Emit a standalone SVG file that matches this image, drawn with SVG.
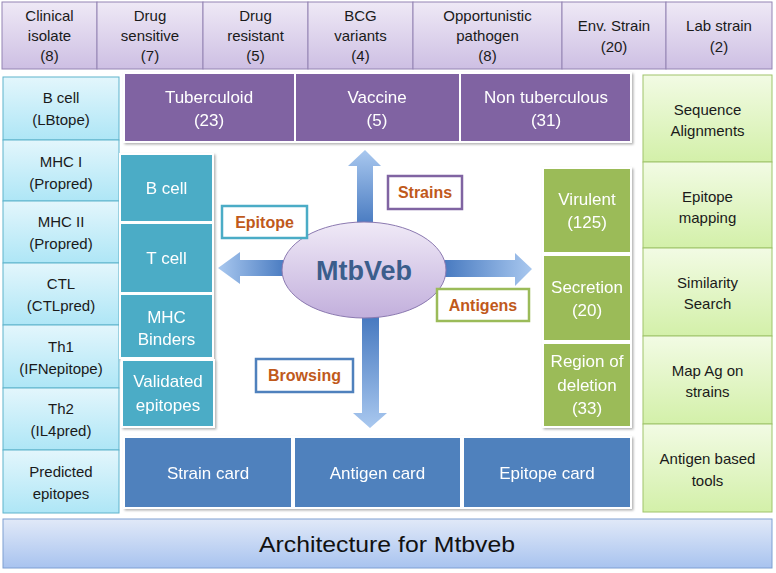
<svg xmlns="http://www.w3.org/2000/svg" width="776" height="573" viewBox="0 0 776 573">
<defs>
<linearGradient id="gTop" x1="0" y1="0" x2="0" y2="1"><stop offset="0" stop-color="#efe9f6"/><stop offset="1" stop-color="#cdbfe3"/></linearGradient>
<linearGradient id="gCyan" x1="0" y1="0" x2="0" y2="1"><stop offset="0" stop-color="#e3f6fc"/><stop offset="1" stop-color="#aee6f6"/></linearGradient>
<linearGradient id="gLime" x1="0" y1="0" x2="0" y2="1"><stop offset="0" stop-color="#f2fbe4"/><stop offset="1" stop-color="#d3f0a9"/></linearGradient>
<linearGradient id="gBan" x1="0" y1="0" x2="0" y2="1"><stop offset="0" stop-color="#e1e9f8"/><stop offset="1" stop-color="#a8c3ef"/></linearGradient>
<linearGradient id="gEl" x1="0" y1="0" x2="0" y2="1"><stop offset="0" stop-color="#f0eaf7"/><stop offset="1" stop-color="#c2afdc"/></linearGradient>
<linearGradient id="aUp" x1="0" y1="1" x2="0" y2="0"><stop offset="0" stop-color="#3f73bc"/><stop offset="1" stop-color="#a9c8ef"/></linearGradient>
<linearGradient id="aDown" x1="0" y1="0" x2="0" y2="1"><stop offset="0" stop-color="#3f73bc"/><stop offset="1" stop-color="#a9c8ef"/></linearGradient>
<linearGradient id="aRight" x1="0" y1="0" x2="1" y2="0"><stop offset="0" stop-color="#3f73bc"/><stop offset="1" stop-color="#a9c8ef"/></linearGradient>
<linearGradient id="aLeft" x1="1" y1="0" x2="0" y2="0"><stop offset="0" stop-color="#3f73bc"/><stop offset="1" stop-color="#a9c8ef"/></linearGradient>
<filter id="sh" x="-10%" y="-10%" width="130%" height="130%"><feDropShadow dx="1.5" dy="1.5" stdDeviation="1.2" flood-color="#000" flood-opacity="0.3"/></filter>
</defs>
<style>
text{font-family:"Liberation Sans",Arial,sans-serif;text-anchor:middle;dominant-baseline:central}
.top{fill:url(#gTop);stroke:#9484b3;stroke-width:1}
.cy{fill:url(#gCyan);stroke:#5fb3cc;stroke-width:1}
.lime{fill:url(#gLime);stroke:#9fc46a;stroke-width:1}
.pur{fill:#8064a2;stroke:#fff;stroke-width:2}
.teal{fill:#4bacc6;stroke:#fff;stroke-width:2}
.grn{fill:#9bbb59;stroke:#fff;stroke-width:2}
.blu{fill:#4f81bd;stroke:#fff;stroke-width:2}
.dk{fill:#1a1a1a;font-size:15px}
.wt{fill:#fff;font-size:17px}
.lbl{fill:#fff;stroke-width:2.5}
.lt{fill:#c0591b;font-size:16px;font-weight:bold}
</style>
<g id="strains-row">
<g id="clinical"><rect class="top" x="2" y="2" width="95" height="67"/><text class="dk" x="49.5" y="15">Clinical</text><text class="dk" x="49.5" y="35">isolate</text><text class="dk" x="49.5" y="55">(8)</text></g>
<g id="drug-sensitive"><rect class="top" x="97" y="2" width="106" height="67"/><text class="dk" x="150" y="15">Drug</text><text class="dk" x="150" y="35">sensitive</text><text class="dk" x="150" y="55">(7)</text></g>
<g id="drug-resistant"><rect class="top" x="203" y="2" width="105" height="67"/><text class="dk" x="255.5" y="15">Drug</text><text class="dk" x="255.5" y="35">resistant</text><text class="dk" x="255.5" y="55">(5)</text></g>
<g id="bcg"><rect class="top" x="308" y="2" width="105" height="67"/><text class="dk" x="360.5" y="15">BCG</text><text class="dk" x="360.5" y="35">variants</text><text class="dk" x="360.5" y="55">(4)</text></g>
<g id="opportunistic"><rect class="top" x="413" y="2" width="149" height="67"/><text class="dk" x="487.5" y="15">Opportunistic</text><text class="dk" x="487.5" y="35">pathogen</text><text class="dk" x="487.5" y="55">(8)</text></g>
<g id="env-strain"><rect class="top" x="562" y="2" width="104" height="67"/><text class="dk" x="614" y="25">Env. Strain</text><text class="dk" x="614" y="46">(20)</text></g>
<g id="lab-strain"><rect class="top" x="666" y="2" width="106" height="67"/><text class="dk" x="719" y="25">Lab strain</text><text class="dk" x="719" y="46">(2)</text></g>
</g>
<g id="tools-left">
<g id="bcell-lbtope"><rect class="cy" x="3" y="77" width="116" height="63"/><text class="dk" x="61" y="97">B cell</text><text class="dk" x="61" y="119">(LBtope)</text></g>
<g id="mhc1"><rect class="cy" x="3" y="140" width="116" height="61"/><text class="dk" x="61" y="161">MHC I</text><text class="dk" x="61" y="183">(Propred)</text></g>
<g id="mhc2"><rect class="cy" x="3" y="201" width="116" height="62"/><text class="dk" x="61" y="221">MHC II</text><text class="dk" x="61" y="243">(Propred)</text></g>
<g id="ctl"><rect class="cy" x="3" y="263" width="116" height="62"/><text class="dk" x="61" y="283">CTL</text><text class="dk" x="61" y="305">(CTLpred)</text></g>
<g id="th1"><rect class="cy" x="3" y="325" width="116" height="63"/><text class="dk" x="61" y="346">Th1</text><text class="dk" x="61" y="368">(IFNepitope)</text></g>
<g id="th2"><rect class="cy" x="3" y="388" width="116" height="62"/><text class="dk" x="61" y="408">Th2</text><text class="dk" x="61" y="430">(IL4pred)</text></g>
<g id="predicted"><rect class="cy" x="3" y="450" width="116" height="63"/><text class="dk" x="61" y="471">Predicted</text><text class="dk" x="61" y="493">epitopes</text></g>
</g>
<g id="tools-right">
<g id="seq-align"><rect class="lime" x="643" y="75" width="129" height="87"/><text class="dk" x="707.5" y="109">Sequence</text><text class="dk" x="707.5" y="130">Alignments</text></g>
<g id="epi-map"><rect class="lime" x="643" y="162" width="129" height="86"/><text class="dk" x="707.5" y="196">Epitope</text><text class="dk" x="707.5" y="217">mapping</text></g>
<g id="similarity"><rect class="lime" x="643" y="248" width="129" height="88"/><text class="dk" x="707.5" y="282">Similarity</text><text class="dk" x="707.5" y="303">Search</text></g>
<g id="map-ag"><rect class="lime" x="643" y="336" width="129" height="88"/><text class="dk" x="707.5" y="370">Map Ag on</text><text class="dk" x="707.5" y="391">strains</text></g>
<g id="ag-tools"><rect class="lime" x="643" y="424" width="129" height="88"/><text class="dk" x="707.5" y="458">Antigen based</text><text class="dk" x="707.5" y="480">tools</text></g>
</g>
<g id="strain-types" filter="url(#sh)">
<g id="tuberculoid"><rect class="pur" x="124" y="73" width="171" height="69"/><text class="wt" x="209" y="97">Tuberculoid</text><text class="wt" x="209" y="120">(23)</text></g>
<g id="vaccine"><rect class="pur" x="295" y="73" width="165" height="69"/><text class="wt" x="377" y="97">Vaccine</text><text class="wt" x="377" y="120">(5)</text></g>
<g id="non-tuberculous"><rect class="pur" x="460" y="73" width="171" height="69"/><text class="wt" x="546" y="97">Non tuberculous</text><text class="wt" x="546" y="120">(31)</text></g>
</g>
<g id="epitope-types" filter="url(#sh)">
<g id="ep-bcell"><rect class="teal" x="120" y="154" width="93" height="68"/><text class="wt" x="166.5" y="188">B cell</text></g>
<g id="ep-tcell"><rect class="teal" x="120" y="223" width="93" height="70"/><text class="wt" x="166.5" y="258">T cell</text></g>
<g id="ep-mhc"><rect class="teal" x="120" y="294" width="93" height="64"/><text class="wt" x="166.5" y="317">MHC</text><text class="wt" x="166.5" y="339">Binders</text></g>
<g id="ep-validated"><rect class="teal" x="122" y="360" width="92" height="67"/><text class="wt" x="168" y="381">Validated</text><text class="wt" x="168" y="405">epitopes</text></g>
</g>
<g id="antigen-types" filter="url(#sh)">
<g id="virulent"><rect class="grn" x="543" y="168" width="88" height="85"/><text class="wt" x="587" y="199">Virulent</text><text class="wt" x="587" y="222">(125)</text></g>
<g id="secretion"><rect class="grn" x="543" y="255" width="88" height="86"/><text class="wt" x="587" y="287">Secretion</text><text class="wt" x="587" y="310">(20)</text></g>
<g id="rod"><rect class="grn" x="543" y="343" width="88" height="84"/><text class="wt" x="587" y="361">Region of</text><text class="wt" x="587" y="385">deletion</text><text class="wt" x="587" y="408">(33)</text></g>
</g>
<g id="cards" filter="url(#sh)">
<g id="strain-card"><rect class="blu" x="124" y="437" width="168" height="71"/><text class="wt" x="208" y="473">Strain card</text></g>
<g id="antigen-card"><rect class="blu" x="294" y="437" width="167" height="71"/><text class="wt" x="377.5" y="473">Antigen card</text></g>
<g id="epitope-card"><rect class="blu" x="463" y="437" width="168" height="71"/><text class="wt" x="547" y="473">Epitope card</text></g>
</g>
<g id="connectors">
<polygon points="365,150 381,166 373,166 373,232 357,232 357,166 348,166" fill="url(#aUp)"/>
<polygon points="362,308 379,308 379,413 387,413 370,428 353,413 362,413" fill="url(#aDown)"/>
<polygon points="436,260 515,260 515,253 532,269 515,286 515,277 436,277" fill="url(#aRight)"/>
<polygon points="292,260 240,260 240,252 218,268 240,284 240,276 292,276" fill="url(#aLeft)"/>
</g>
<g id="mtbveb"><ellipse cx="364" cy="270" rx="82" ry="48" fill="url(#gEl)" stroke="#8b79b0" stroke-width="1"/><text x="364" y="271" style="font-size:27px;font-weight:bold;fill:#3b5e8c">MtbVeb</text></g>
<g id="lbl-epitope"><rect class="lbl" x="222" y="206" width="85" height="32" stroke="#4bacc6"/><text class="lt" x="264.5" y="222">Epitope</text></g>
<g id="lbl-strains"><rect class="lbl" x="388" y="176" width="74" height="33" stroke="#8064a2"/><text class="lt" x="425" y="192.5">Strains</text></g>
<g id="lbl-antigens"><rect class="lbl" x="437" y="289" width="92" height="32" stroke="#9bbb59"/><text class="lt" x="483" y="305">Antigens</text></g>
<g id="lbl-browsing"><rect class="lbl" x="256" y="359" width="97" height="33" stroke="#4f81bd"/><text class="lt" x="304.5" y="375.5">Browsing</text></g>
<g id="banner"><rect x="3" y="519" width="769" height="49" fill="url(#gBan)" stroke="#7f9fd2" stroke-width="1"/><text x="387" y="544" style="font-size:22px;fill:#111" textLength="256" lengthAdjust="spacingAndGlyphs">Architecture for Mtbveb</text></g>
</svg>
